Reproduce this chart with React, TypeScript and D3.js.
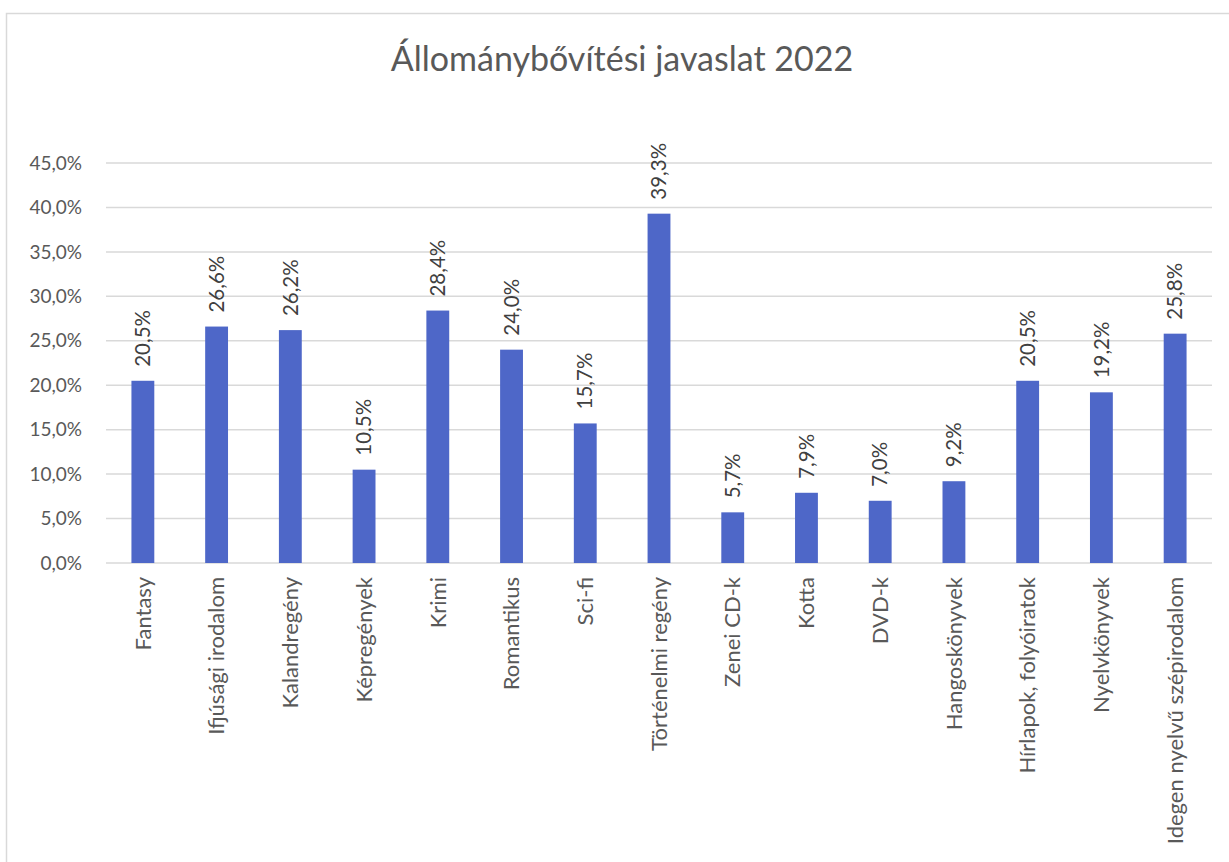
import React from "react";
import * as d3 from "d3";

const categories = [
  "Fantasy",
  "Ifjúsági irodalom",
  "Kalandregény",
  "Képregények",
  "Krimi",
  "Romantikus",
  "Sci-fi",
  "Történelmi regény",
  "Zenei CD-k",
  "Kotta",
  "DVD-k",
  "Hangoskönyvek",
  "Hírlapok, folyóiratok",
  "Nyelvkönyvek",
  "Idegen nyelvű szépirodalom",
];
const values = [20.5, 26.6, 26.2, 10.5, 28.4, 24.0, 15.7, 39.3, 5.7, 7.9, 7.0, 9.2, 20.5, 19.2, 25.8];
const yTicks = [0, 5, 10, 15, 20, 25, 30, 35, 40, 45];
const title = "Állománybővítési javaslat 2022";

const W = 1229;
const H = 862;
const FONT = "Lato, 'Noto Sans', sans-serif";
const TEXT = "#595959";

export default function App() {
  const left = 106;
  const right = 1212;
  const top = 163;
  const bottom = 563;
  const x = d3.scaleBand<string>().domain(categories).range([left, right]).paddingInner(0.69).paddingOuter(0.345);
  const y = d3.scaleLinear().domain([0, 45]).range([bottom, top]);
  const fmt = (v: number) => v.toFixed(1).replace(".", ",") + "%";

  return (
    <svg width={W} height={H} style={{ position: "absolute", left: 0, top: 0 }}>
      <rect x={0} y={0} width={W} height={H} fill="#fff" />
      <rect x={6.5} y={13.5} width={1240} height={900} fill="#fff" stroke="#d9d9d9" strokeWidth={1.5} />
      <text x={622} y={71} textAnchor="middle" fontFamily={FONT} fontSize={34} fill={TEXT}>
        {title}
      </text>
      {yTicks.map((t) => (
        <g key={t}>
          <line x1={left} x2={right} y1={y(t)} y2={y(t)} stroke="#d9d9d9" strokeWidth={1.5} />
          <text x={82} y={y(t)} dy="0.35em" textAnchor="end" fontFamily={FONT} fontSize={19} fill={TEXT}>
            {fmt(t)}
          </text>
        </g>
      ))}
      {categories.map((c, i) => {
        const cx = (x(c) as number) + x.bandwidth() / 2;
        return (
          <g key={c}>
            <rect x={x(c)} y={y(values[i])} width={x.bandwidth()} height={bottom - y(values[i])} fill="#4E67C8" />
            <text
              transform={`translate(${cx},${y(values[i]) - 14}) rotate(-90)`}
              dy="0.35em"
              textAnchor="start"
              fontFamily={FONT}
              fontSize={20.5}
              fill="#404040"
            >
              {fmt(values[i])}
            </text>
            <text
              transform={`translate(${cx},${bottom + 14}) rotate(-90)`}
              dy="0.35em"
              textAnchor="end"
              fontFamily={FONT}
              fontSize={22}
              fill={TEXT}
            >
              {c}
            </text>
          </g>
        );
      })}
    </svg>
  );
}
